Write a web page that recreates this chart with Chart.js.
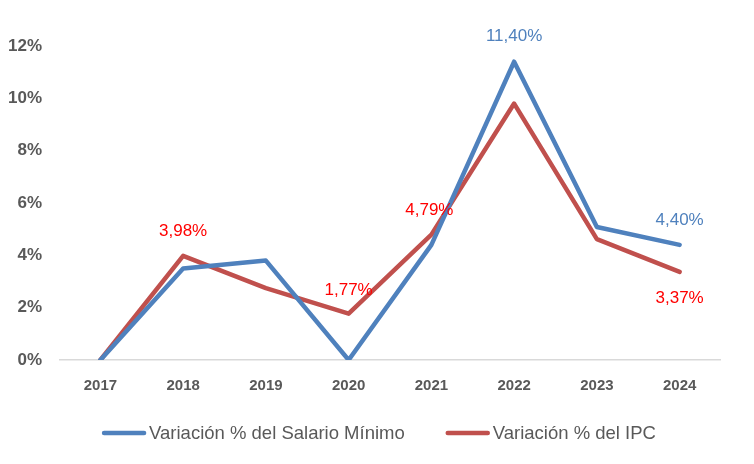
<!DOCTYPE html>
<html>
<head>
<meta charset="utf-8">
<script src="https://cdn.jsdelivr.net/npm/chart.js@4.4.1/dist/chart.umd.min.js"></script>
<style>
  html, body { margin: 0; padding: 0; background: #fff; }
  #wrap { width: 754px; height: 464px; position: relative; }
</style>
</head>
<body>
<div id="wrap"><canvas id="chart"></canvas></div>
<script>
// === DATA ===
const years = ['2017', '2018', '2019', '2020', '2021', '2022', '2023', '2024'];
const salarioMinimo = [0, 3.5, 3.8, 0, 4.4, 11.4, 5.08, 4.4];
const ipc = [0, 3.98, 2.75, 1.77, 4.79, 9.8, 4.62, 3.37];
const yTicks = [0, 2, 4, 6, 8, 10, 12];
// which points get a value label (index lists)
const salarioLabeled = [5, 7];
const ipcLabeled = [1, 3, 4, 7];

const BLUE = '#4F81BD';
const RED = '#C0504D';
const FONT = '"Liberation Sans", "Open Sans", sans-serif';

const fmt = v => v.toFixed(2).replace('.', ',') + '%';

// === VALUE LABELS ===
const valueLabels = {
  id: 'valueLabels',
  afterDatasetsDraw(chart) {
    const c = chart.ctx;
    c.save();
    c.font = '17px ' + FONT;
    c.textAlign = 'center';
    c.textBaseline = 'middle';
    const draw = (dsIndex, idxs, color, offsets) => {
      const meta = chart.getDatasetMeta(dsIndex);
      idxs.forEach((i, k) => {
        const p = meta.data[i];
        const v = chart.data.datasets[dsIndex].data[i];
        c.fillStyle = color;
        c.fillText(fmt(v), p.x + offsets[k][0], p.y + offsets[k][1]);
      });
    };
    draw(0, salarioLabeled, BLUE, [[0, -25], [0, -25]]);
    draw(1, ipcLabeled, '#FF0000', [[0, -25], [0, -23], [-2, -24], [0, 26]]);
    c.restore();
  }
};

// === LEGEND (line swatch + text, centred under the plot) ===
const lineLegend = {
  id: 'lineLegend',
  afterDraw(chart) {
    const c = chart.ctx;
    const y = 433, lineW = 44, gap = 3, itemGap = 41;
    c.save();
    c.font = '18.5px ' + FONT;
    c.textBaseline = 'middle';
    const items = chart.data.datasets.map(ds => ({ text: ds.label, color: ds.borderColor, w: c.measureText(ds.label).width }));
    const total = items.reduce((s, it) => s + lineW + gap + it.w, 0) + itemGap * (items.length - 1);
    let x = 379 - total / 2;
    items.forEach(it => {
      c.strokeStyle = it.color;
      c.lineWidth = 4.5;
      c.lineCap = 'round';
      c.beginPath();
      c.moveTo(x + 2, y);
      c.lineTo(x + lineW - 2, y);
      c.stroke();
      c.fillStyle = '#595959';
      c.fillText(it.text, x + lineW + gap, y + 1);
      x += lineW + gap + it.w + itemGap;
    });
    c.restore();
  }
};

new Chart(document.getElementById('chart'), {
  type: 'line',
  data: {
    labels: years,
    datasets: [
      { label: 'Variación % del Salario Mínimo', data: salarioMinimo, borderColor: BLUE, backgroundColor: BLUE, borderWidth: 4.5, pointRadius: 0, tension: 0, borderJoinStyle: 'round', borderCapStyle: 'round' },
      { label: 'Variación % del IPC', data: ipc, borderColor: RED, backgroundColor: RED, borderWidth: 4.5, pointRadius: 0, tension: 0, borderJoinStyle: 'round', borderCapStyle: 'round' }
    ]
  },
  options: {
    responsive: true,
    maintainAspectRatio: false,
    animation: false,
    layout: { padding: { left: 0, right: 33, top: 46, bottom: 64 } },
    plugins: {
      tooltip: { enabled: false },
      legend: { display: false }
    },
    scales: {
      x: {
        offset: true,
        grid: { display: false, drawTicks: false },
        border: { display: false },
        afterFit(axis) { axis.height = 40; },
        ticks: { color: '#595959', padding: 17, font: { size: 15, weight: 'bold', family: FONT } }
      },
      y: {
        min: 0, max: 12,
        afterBuildTicks(axis) { axis.ticks = yTicks.map(v => ({ value: v })); },
        afterFit(axis) { axis.width = 59; },
        grid: {
          drawTicks: false,
          color: ctx => ctx.tick && ctx.tick.value === 0 ? '#D9D9D9' : 'rgba(0,0,0,0)',
          lineWidth: 1.5
        },
        border: { display: false },
        ticks: {
          color: '#595959', padding: 17,
          font: { size: 17, weight: 'bold', family: FONT },
          callback: v => v + '%'
        }
      }
    }
  },
  plugins: [valueLabels, lineLegend]
});
</script>
</body>
</html>
